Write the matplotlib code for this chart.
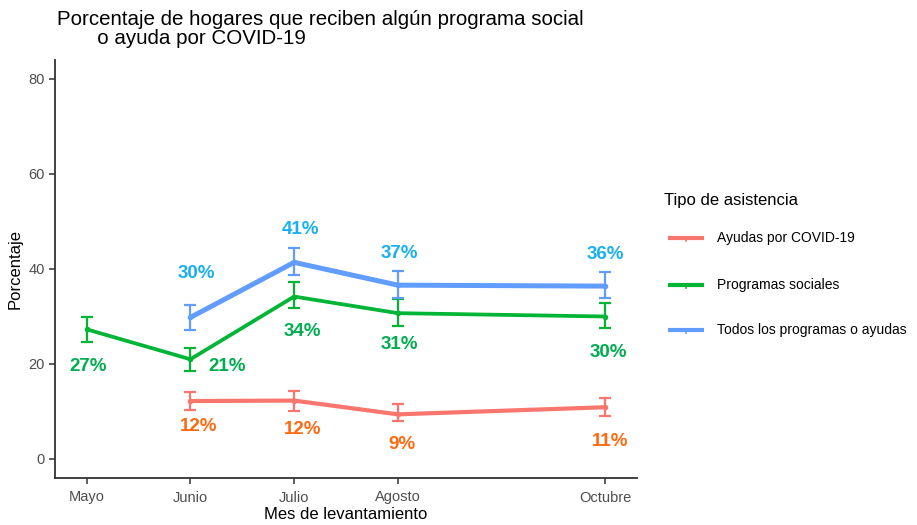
import matplotlib
matplotlib.use("Agg")
import matplotlib.pyplot as plt
from matplotlib.lines import Line2D

# ---- data ----
month_num = [5, 6, 7, 8, 10]
month_labels = ["Mayo", "Junio", "Julio", "Agosto", "Octubre"]

covid_x = [6, 7, 8, 10]
covid_val = [12.2, 12.3, 9.4, 10.9]
covid_lo = [10.3, 10.1, 8.0, 9.0]
covid_hi = [14.1, 14.3, 11.6, 12.8]
covid_lab = ["12%", "12%", "9%", "11%"]

prog_x = [5, 6, 7, 8, 10]
prog_val = [27.3, 21.0, 34.2, 30.7, 30.0]
prog_lo = [24.6, 18.5, 31.7, 27.9, 27.5]
prog_hi = [30.0, 23.3, 37.2, 33.6, 32.8]
prog_lab = ["27%", "21%", "34%", "31%", "30%"]

todos_x = [6, 7, 8, 10]
todos_val = [29.8, 41.4, 36.6, 36.4]
todos_lo = [27.1, 38.8, 33.8, 33.8]
todos_hi = [32.5, 44.5, 39.5, 39.3]
todos_lab = ["30%", "41%", "37%", "36%"]

series_names = ["Ayudas por COVID-19", "Programas sociales", "Todos los programas o ayudas"]

# ---- styles ----
line_colors = ["#F8766D", "#00B536", "#619CFF"]
label_colors = ["#FF6A10", "#00AD50", "#1AB0F0"]
line_widths = [3.0, 2.7, 3.6]
# label offsets in pixels (dx, dy downward positive)
covid_off = [(8, 25), (8, 29), (4, 30), (5, 34)]
prog_off = [(1, 37), (37, 7), (8, 35), (2, 31), (3, 36)]
todos_off = [(6, -44), (6, -33), (2, -32), (0, -32)]

W, H = 917, 525
fig = plt.figure(figsize=(W / 100, H / 100), dpi=100)
ax = fig.add_axes([55 / W, 1 - 478 / H, (637 - 55) / W, (478 - 60) / H])

font = "Liberation Sans"
tickfont = ["Liberation Sans Narrow", "Liberation Sans", "DejaVu Sans"]

groups = [
    (covid_x, covid_val, covid_lo, covid_hi, covid_lab, covid_off),
    (prog_x, prog_val, prog_lo, prog_hi, prog_lab, prog_off),
    (todos_x, todos_val, todos_lo, todos_hi, todos_lab, todos_off),
]

px2pt = 72 / 100
for i, (xs, v, lo, hi, labs, offs) in enumerate(groups):
    yerr = [[a - b for a, b in zip(v, lo)], [c - a for a, c in zip(v, hi)]]
    ax.errorbar(xs, v, yerr=yerr, fmt="none", ecolor=line_colors[i],
                elinewidth=1.6, capsize=4, capthick=1.6, zorder=2)
    ax.plot(xs, v, color=line_colors[i], lw=line_widths[i], zorder=3,
            solid_capstyle="butt")
    ax.plot(xs, v, "o", color=line_colors[i], ms=3, zorder=3)
    for x, y, t, (dx, dy) in zip(xs, v, labs, offs):
        ax.annotate(t, (x, y), xytext=(dx * px2pt, -dy * px2pt),
                    textcoords="offset points", ha="center", va="center",
                    fontsize=13.5, fontweight="bold", color=label_colors[i],
                    family=font, zorder=4)

ax.set_xlim(4.695, 10.305)
ax.set_ylim(-4, 84)
ax.set_xticks(month_num)
ax.set_xticklabels(month_labels)
ax.set_yticks([0, 20, 40, 60, 80])
for s in ["top", "right"]:
    ax.spines[s].set_visible(False)
for s in ["left", "bottom"]:
    ax.spines[s].set_color("#333333")
    ax.spines[s].set_linewidth(1.3)
ax.tick_params(axis="both", colors="#333333", length=4, width=1.1,
               labelcolor="#4D4D4D", labelsize=10.5)
for lab in ax.get_xticklabels() + ax.get_yticklabels():
    lab.set_family(tickfont)
ax.tick_params(axis="x", pad=5)

ax.set_xlabel("Mes de levantamiento", fontsize=12, family=font, color="black", labelpad=2)
ax.set_ylabel("Porcentaje", fontsize=12, family=font, color="black", labelpad=4)

fig.text(57 / W, 1 - 29 / H, "Porcentaje de hogares que reciben algún programa social\n       o ayuda por COVID-19",
         fontsize=14.8, family=font, ha="left", va="center", linespacing=0.95)

# legend (manual)
fig.text(664 / W, 1 - 200 / H, "Tipo de asistencia", fontsize=12, family=font,
         ha="left", va="center")
key_y = [238, 285, 330]
for i, (name, ky) in enumerate(zip(series_names, key_y)):
    fig.add_artist(Line2D([668 / W, 704 / W], [1 - ky / H, 1 - ky / H],
                          color=line_colors[i], lw=3.0, transform=fig.transFigure,
                          solid_capstyle="butt"))
    fig.add_artist(Line2D([686 / W, 686 / W], [1 - ky / H, 1 - (ky + 3) / H],
                          color=line_colors[i], lw=1.2, transform=fig.transFigure))
    fig.text(717 / W, 1 - ky / H, name, fontsize=10, family=font, ha="left", va="center")

fig.savefig("out.png", dpi=100)
